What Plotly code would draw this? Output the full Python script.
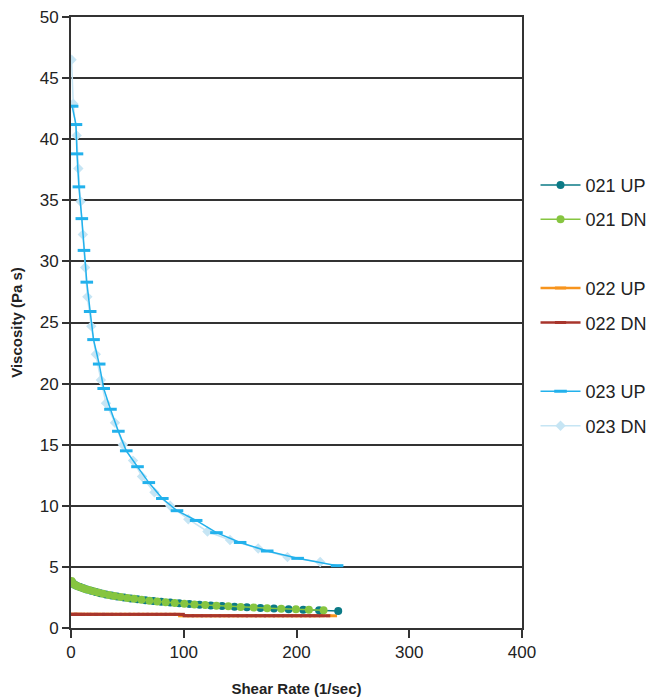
import plotly.graph_objects as go

# 021 UP
x021up = [1, 3, 5, 8, 11, 14, 18, 22, 26, 31, 36, 41, 47, 53, 59, 66, 73, 80, 88, 96,
          105, 114, 124, 134, 145, 156, 168, 180, 193, 206, 220, 237]
y021up = [3.75, 3.55, 3.45, 3.35, 3.25, 3.15, 3.05, 2.95, 2.85, 2.75, 2.65, 2.58, 2.5, 2.42,
          2.35, 2.28, 2.2, 2.14, 2.08, 2.02, 1.96, 1.9, 1.85, 1.8, 1.74, 1.69, 1.64, 1.59,
          1.54, 1.5, 1.45, 1.4]
# 021 DN
x021dn = [0.5, 2, 4, 6.5, 9.5, 12.5, 16, 20, 24, 28.5, 33.5, 38.5, 44, 50, 56, 62.5, 69.5,
          76.5, 84, 92, 100.5, 109.5, 119, 129, 139.5, 150.5, 162, 174, 186.5, 199.5, 211, 224]
y021dn = [3.85, 3.62, 3.5, 3.4, 3.3, 3.2, 3.1, 3.0, 2.9, 2.8, 2.7, 2.62, 2.54, 2.46, 2.39,
          2.31, 2.24, 2.17, 2.11, 2.05, 1.99, 1.93, 1.88, 1.82, 1.77, 1.72, 1.67, 1.62,
          1.57, 1.53, 1.49, 1.45]
# 022 UP
x022up = [1, 5, 10, 16, 22, 29, 36, 44, 52, 60, 68, 76, 84, 92, 100, 108, 116, 124, 132,
          140, 148, 156, 164, 172, 180, 188, 196, 204, 212, 220, 231]
y022up = [1.12] * 14 + [1.0] * 17
# 022 DN
x022dn = [0.5, 3, 7.5, 13, 19, 25.5, 32.5, 40, 48, 56, 64, 72, 80, 88, 96, 104, 112, 120,
          128, 136, 144, 152, 160, 168, 176, 184, 192, 200, 208, 216, 225]
y022dn = [1.12] * 15 + [1.0] * 16
# 023 UP
x023up = [1, 4.4, 5.3, 7, 9.6, 11.5, 14, 17, 20, 25, 29, 35, 42, 49, 59, 69, 81, 94, 111,
          129, 150, 174, 201, 236]
y023up = [42.7, 41.2, 38.8, 36.1, 33.5, 30.9, 28.3, 25.9, 23.6, 21.6, 19.6, 17.9, 16.1,
          14.5, 13.2, 11.9, 10.6, 9.6, 8.8, 7.8, 7.0, 6.3, 5.7, 5.1]
# 023 DN
x023dn = [0.5, 2, 5, 6.5, 8.5, 10.5, 12.5, 14.5, 18, 22, 26.5, 31, 39, 46, 55, 63, 74, 88,
          104, 121, 141, 166, 192, 221]
y023dn = [46.5, 42.9, 40.3, 37.6, 34.9, 32.2, 29.5, 27.1, 24.7, 22.4, 20.3, 18.4, 16.8,
          15.0, 13.7, 12.4, 11.1, 10.0, 8.9, 7.9, 7.2, 6.5, 5.8, 5.4]

fig = go.Figure()

def add(x, y, name, color, symbol, size, rank, mline=None, lw=1.5):
    marker = dict(color=color, symbol=symbol, size=size)
    if mline is not None:
        marker["line"] = dict(color=color, width=mline)
    fig.add_trace(go.Scatter(x=x, y=y, name=name, mode="lines+markers",
                             line=dict(color=color, width=lw), marker=marker,
                             legendgroup=name, legendrank=rank))

def spacer(rank):
    fig.add_trace(go.Scatter(x=[None], y=[None], name="", mode="lines",
                             line=dict(color="rgba(0,0,0,0)"), showlegend=True,
                             legendgroup="sp%d" % rank, legendrank=rank, hoverinfo="skip"))

add(x023dn, y023dn, "023 DN", "#C6E5F4", "diamond", 8, 8)
add(x023up, y023up, "023 UP", "#22B1EC", "line-ew", 9, 7, 3)
add(x022up, y022up, "022 UP", "#F7941D", "line-ew", 8, 4, 3, 2.5)
add(x022dn, y022dn, "022 DN", "#A8352C", "line-ew", 8, 5, 3, 2.5)
add(x021up, y021up, "021 UP", "#0B7A86", "circle", 8, 1)
add(x021dn, y021dn, "021 DN", "#86C540", "circle", 8, 2)
spacer(3)
spacer(6)

fig.update_layout(
    width=649, height=697,
    margin=dict(l=71, r=127, t=17, b=69, autoexpand=False),
    paper_bgcolor="white", plot_bgcolor="white",
    font=dict(family="Liberation Sans, Arial, sans-serif", color="#222"),
    legend=dict(x=1.03, y=0.755, xanchor="left", yanchor="top",
                font=dict(size=18), traceorder="grouped", tracegroupgap=8,
                itemwidth=40, bgcolor="rgba(0,0,0,0)"),
)

fig.update_xaxes(range=[0, 400], dtick=100, showgrid=False, zeroline=False,
                 showline=True, linecolor="#333", linewidth=2, mirror=True,
                 ticks="outside", ticklen=8, tickwidth=2, tickcolor="#333",
                 tickfont=dict(size=17), automargin=False,
                 title=dict(text="<b>Shear Rate (1/sec)</b>", font=dict(size=15), standoff=22))
fig.update_yaxes(range=[0, 50], dtick=5, showgrid=True, gridcolor="#333", gridwidth=2,
                 zeroline=False, showline=True, linecolor="#333", linewidth=2, mirror=True,
                 ticks="outside", ticklen=7, tickwidth=2, tickcolor="#333",
                 tickfont=dict(size=17), automargin=False,
                 title=dict(text="<b>Viscosity (Pa s)</b>", font=dict(size=15), standoff=13))

fig.write_html("out.html")
